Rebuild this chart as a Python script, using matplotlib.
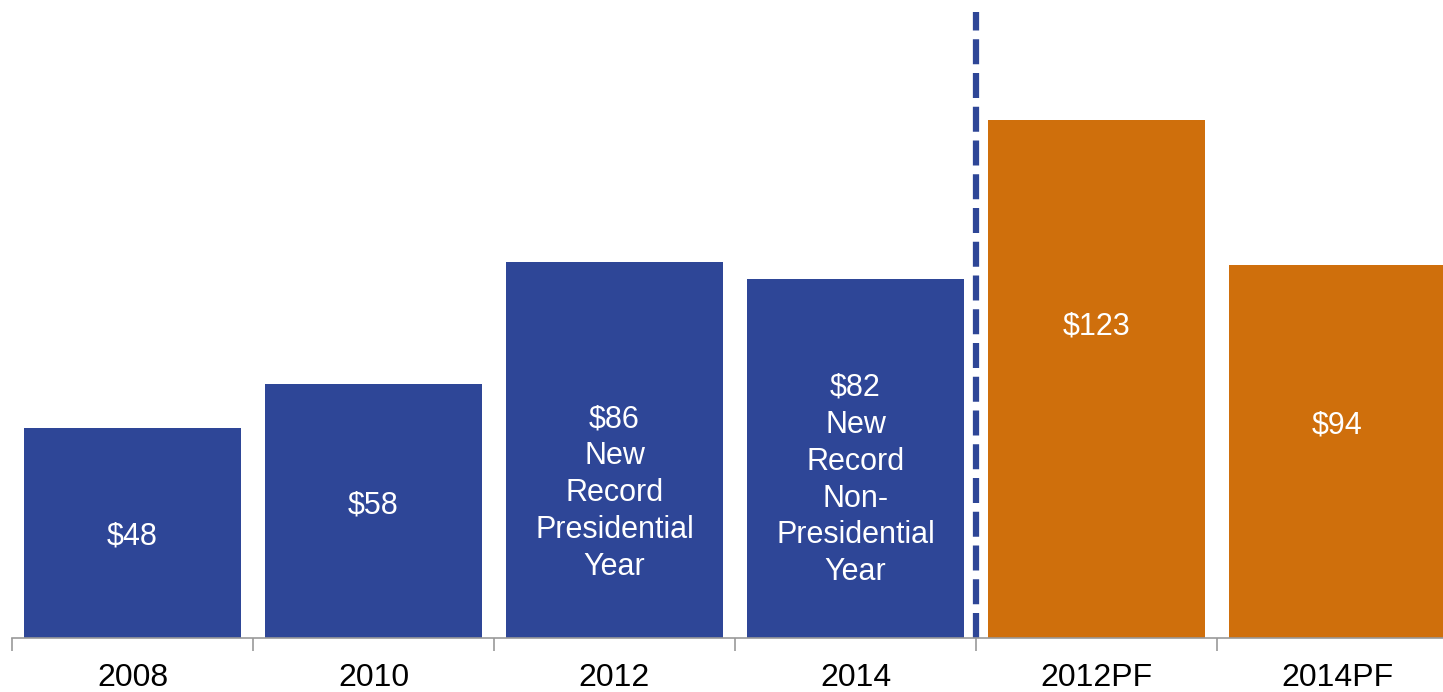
import matplotlib
matplotlib.use('Agg')
import matplotlib.pyplot as plt

plt.rcParams['font.family'] = ['Liberation Sans', 'DejaVu Sans']

# data
years = ['2008', '2010', '2012', '2014', '2012PF', '2014PF']
bar_heights = [48, 58, 86, 82, 118.4, 85.3]
bar_labels = ['$48', '$58', '$86\nNew\nRecord\nPresidential\nYear',
              '$82\nNew\nRecord\nNon-\nPresidential\nYear', '$123', '$94']
label_y = [23.1, 30.2, 33.1, 36.1, 71.1, 48.5]

blue = '#2E4697'
orange = '#CF6F0C'
colors = [blue, blue, blue, blue, orange, orange]

fig = plt.figure(figsize=(14.43, 6.92), dpi=100)
ax = fig.add_axes([12 / 1443, 54 / 692, 1446 / 1443, 626 / 692])

x = list(range(len(years)))
ax.bar(x, bar_heights, width=0.9, color=colors)

for xi, txt, yy in zip(x, bar_labels, label_y):
    ax.text(xi, yy, txt, ha='center', va='center', color='white',
            fontsize=22, linespacing=1.3)

# divider between actual and pro forma
ax.axvline(3.5, ymin=0, ymax=1, color=blue, lw=4.5, linestyle=(0, (4, 1.4)))

ax.set_xlim(-0.5, 5.5)
ax.set_ylim(0, 143.1)

for s in ['top', 'right', 'left']:
    ax.spines[s].set_visible(False)
ax.spines['bottom'].set_color('#999999')
ax.spines['bottom'].set_linewidth(1.2)

ax.set_yticks([])
ax.set_xticks([i - 0.5 for i in range(7)], minor=False)
ax.set_xticklabels([''] * 7)
ax.tick_params(axis='x', which='major', length=9, color='#999999', width=1.2)
ax.set_xticks(x, minor=True)
ax.set_xticklabels(years, minor=True, fontsize=23)
ax.tick_params(axis='x', which='minor', length=0, pad=18)

fig.savefig('out.png', dpi=100)
